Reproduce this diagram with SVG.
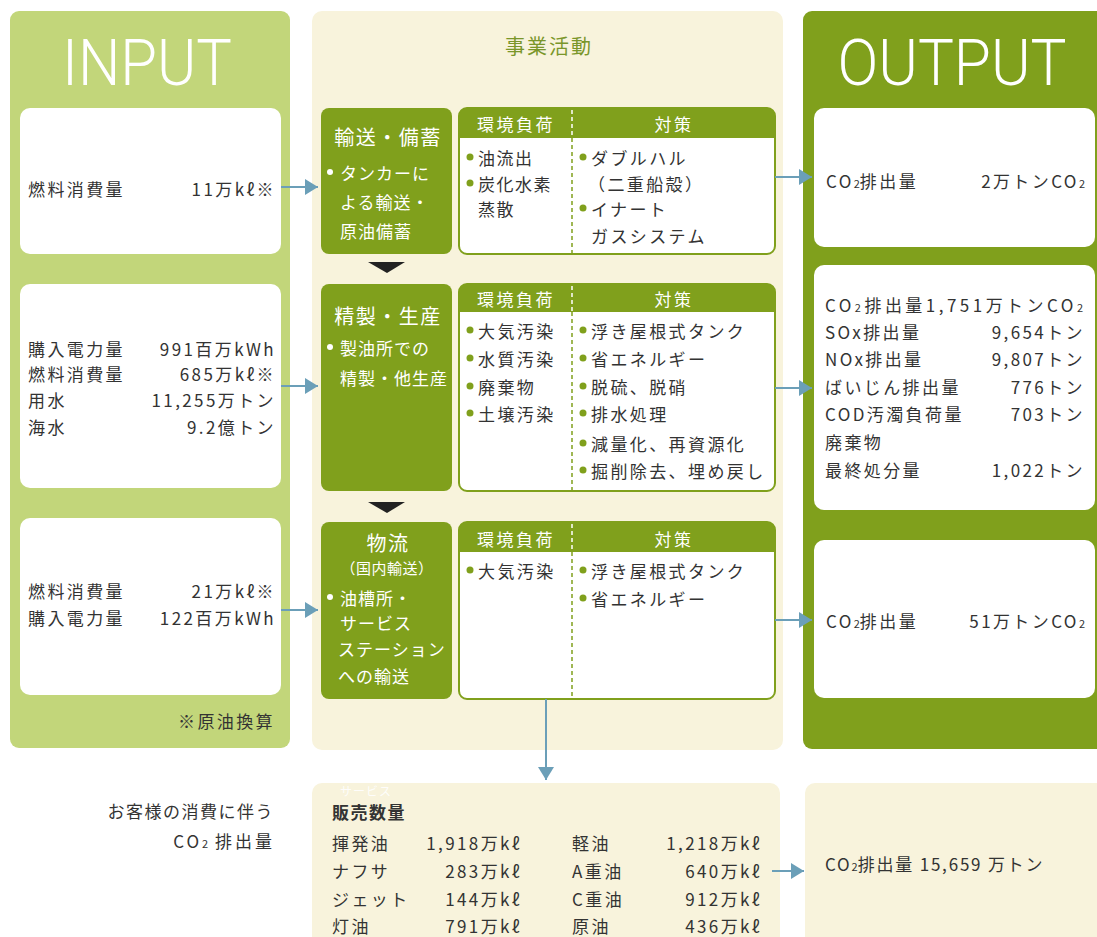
<svg xmlns="http://www.w3.org/2000/svg" width="1097" height="937" viewBox="0 0 1097 937">
<style>
.t{font-family:'Noto Sans CJK JP','Noto Sans CJK SC',sans-serif;font-size:17px;fill:#333;letter-spacing:2.4px;dominant-baseline:central}
.e{text-anchor:end}
.m{text-anchor:middle}
.w{fill:#fff}
.gt{font-family:'Noto Sans CJK JP','Noto Sans CJK SC',sans-serif;font-size:17px;fill:#fff;letter-spacing:1px;dominant-baseline:central}
.gh{font-family:'Noto Sans CJK JP','Noto Sans CJK SC',sans-serif;font-size:20px;fill:#fff;letter-spacing:1.5px;dominant-baseline:central;text-anchor:middle}
.hd{font-family:'Noto Sans CJK JP','Noto Sans CJK SC',sans-serif;font-size:17px;fill:#fff;letter-spacing:2.5px;dominant-baseline:central;text-anchor:middle}
.big{font-family:Roboto,'Noto Sans',sans-serif;font-weight:300;font-size:64px;fill:#fff}
.sub{font-size:11px;letter-spacing:0}
.green{fill:#80a01c}
.tbl{fill:#fff;stroke:#80a01c;stroke-width:2}
.wbox{fill:#fff}
.cream{fill:#f8f3dc}
.dot{fill:#80a01c}
.wdot{fill:#fff}
.arr{stroke:#6b9fb8;stroke-width:2;fill:none;marker-end:url(#ah)}
.tri{fill:#222}
</style>
<defs>
<marker id="ah" markerUnits="userSpaceOnUse" markerWidth="14" markerHeight="16" refX="13" refY="8" orient="auto">
<path d="M0,0 L13,8 L0,16 z" fill="#6b9fb8"/>
</marker>
</defs>

<!-- panels -->
<g id="input-panel">
<rect x="10" y="11" width="280" height="737" rx="9" fill="#c2d67a"/>
<text class="big" x="147" y="85" text-anchor="middle" textLength="170" lengthAdjust="spacingAndGlyphs">INPUT</text>
<text class="t e" x="275" y="720">※原油換算</text>
</g>
<g id="activity-panel">
<rect x="312" y="11" width="471" height="739" rx="10" class="cream"/>
<text class="t m" x="549" y="45" style="fill:#7a962a;font-size:20px;letter-spacing:2px">事業活動</text>
</g>
<g id="output-panel">
<rect x="803" y="11" width="310" height="738" rx="9" class="green"/>
<text class="big" x="952" y="85" text-anchor="middle" textLength="229" lengthAdjust="spacingAndGlyphs">OUTPUT</text>
</g>

<!-- input boxes -->
<g id="in1">
<rect x="20" y="108" width="261" height="146" rx="10" class="wbox"/>
<text class="t" x="28" y="188">燃料消費量</text>
<text class="t e" x="276" y="188">11万kℓ※</text>
</g>
<g id="in2">
<rect x="20" y="284" width="261" height="204" rx="10" class="wbox"/>
<text class="t" x="28" y="348">購入電力量</text>
<text class="t e" x="276" y="348">991百万kWh</text>
<text class="t" x="28" y="373">燃料消費量</text>
<text class="t e" x="276" y="373">685万kℓ※</text>
<text class="t" x="28" y="399">用水</text>
<text class="t e" x="276" y="399">11,255万トン</text>
<text class="t" x="28" y="426">海水</text>
<text class="t e" x="276" y="426">9.2億トン</text>
</g>
<g id="in3">
<rect x="20" y="518" width="261" height="177" rx="10" class="wbox"/>
<text class="t" x="28" y="590">燃料消費量</text>
<text class="t e" x="276" y="590">21万kℓ※</text>
<text class="t" x="28" y="617">購入電力量</text>
<text class="t e" x="276" y="617">122百万kWh</text>
</g>

<!-- activity 1 -->
<g id="act1">
<rect x="321" y="108" width="131" height="146" rx="8" class="green"/>
<text class="gh" x="388" y="136">輸送・備蓄</text>
<circle class="wdot" cx="330" cy="172" r="3"/>
<text class="gt" x="340" y="172">タンカーに</text>
<text class="gt" x="340" y="201">よる輸送・</text>
<text class="gt" x="340" y="230">原油備蓄</text>
</g>
<g id="tbl1">
<rect x="459" y="108" width="316" height="146" rx="8" class="tbl"/>
<path d="M467,108 H767 A8,8 0 0 1 775,116 V138 H459 V116 A8,8 0 0 1 467,108 z" class="green"/>
<line x1="572" y1="110" x2="572" y2="138" stroke="#fff" stroke-width="1.5" stroke-dasharray="4,3"/>
<line x1="572" y1="138" x2="572" y2="253" stroke="#80a01c" stroke-width="1.5" stroke-dasharray="4,3"/>
<text class="hd" x="516" y="123">環境負荷</text>
<text class="hd" x="674" y="123">対策</text>
<circle class="dot" cx="470" cy="157" r="3.5"/>
<text class="t" x="478" y="157" style="letter-spacing:1.5px">油流出</text>
<circle class="dot" cx="470" cy="183" r="3.5"/>
<text class="t" x="478" y="183" style="letter-spacing:1.5px">炭化水素</text>
<text class="t" x="478" y="208" style="letter-spacing:1.5px">蒸散</text>
<circle class="dot" cx="583" cy="157" r="3.5"/>
<text class="t" x="591" y="157">ダブルハル</text>
<text class="t" x="588" y="183">（二重船殻）</text>
<circle class="dot" cx="583" cy="208" r="3.5"/>
<text class="t" x="591" y="208">イナート</text>
<text class="t" x="591" y="235">ガスシステム</text>
</g>

<!-- activity 2 -->
<g id="act2">
<rect x="321" y="284" width="131" height="207" rx="8" class="green"/>
<text class="gh" x="388" y="315">精製・生産</text>
<circle class="wdot" cx="330" cy="347" r="3"/>
<text class="gt" x="340" y="347">製油所での</text>
<text class="gt" x="340" y="377">精製・他生産</text>
</g>
<g id="tbl2">
<rect x="459" y="284" width="316" height="207" rx="8" class="tbl"/>
<path d="M467,284 H767 A8,8 0 0 1 775,292 V312 H459 V292 A8,8 0 0 1 467,284 z" class="green"/>
<line x1="572" y1="286" x2="572" y2="312" stroke="#fff" stroke-width="1.5" stroke-dasharray="4,3"/>
<line x1="572" y1="312" x2="572" y2="490" stroke="#80a01c" stroke-width="1.5" stroke-dasharray="4,3"/>
<text class="hd" x="516" y="298">環境負荷</text>
<text class="hd" x="674" y="298">対策</text>
<circle class="dot" cx="470" cy="330" r="3.5"/>
<text class="t" x="478" y="330">大気汚染</text>
<circle class="dot" cx="470" cy="358" r="3.5"/>
<text class="t" x="478" y="358">水質汚染</text>
<circle class="dot" cx="470" cy="386" r="3.5"/>
<text class="t" x="478" y="386">廃棄物</text>
<circle class="dot" cx="470" cy="413" r="3.5"/>
<text class="t" x="478" y="413">土壌汚染</text>
<circle class="dot" cx="583" cy="330" r="3.5"/>
<text class="t" x="591" y="330">浮き屋根式タンク</text>
<circle class="dot" cx="583" cy="358" r="3.5"/>
<text class="t" x="591" y="358">省エネルギー</text>
<circle class="dot" cx="583" cy="386" r="3.5"/>
<text class="t" x="591" y="386">脱硫、脱硝</text>
<circle class="dot" cx="583" cy="413" r="3.5"/>
<text class="t" x="591" y="413">排水処理</text>
<circle class="dot" cx="583" cy="443" r="3.5"/>
<text class="t" x="591" y="443">減量化、再資源化</text>
<circle class="dot" cx="583" cy="470" r="3.5"/>
<text class="t" x="591" y="470">掘削除去、埋め戻し</text>
</g>

<!-- activity 3 -->
<g id="act3">
<rect x="321" y="522" width="131" height="177" rx="8" class="green"/>
<text class="gh" x="388" y="542">物流</text>
<text class="gt" x="387" y="567" style="font-size:15px;text-anchor:middle;letter-spacing:0.5px">（国内輸送）</text>
<circle class="wdot" cx="330" cy="597" r="3"/>
<text class="gt" x="340" y="597">油槽所・</text>
<text class="gt" x="340" y="622">サービス</text>
<text class="gt" x="338" y="648">ステーション</text>
<text class="gt" x="338" y="675">への輸送</text>
</g>
<g id="tbl3">
<rect x="459" y="522" width="316" height="177" rx="8" class="tbl"/>
<path d="M467,522 H767 A8,8 0 0 1 775,530 V552 H459 V530 A8,8 0 0 1 467,522 z" class="green"/>
<line x1="572" y1="524" x2="572" y2="552" stroke="#fff" stroke-width="1.5" stroke-dasharray="4,3"/>
<line x1="572" y1="552" x2="572" y2="698" stroke="#80a01c" stroke-width="1.5" stroke-dasharray="4,3"/>
<text class="hd" x="516" y="538">環境負荷</text>
<text class="hd" x="674" y="538">対策</text>
<circle class="dot" cx="470" cy="570" r="3.5"/>
<text class="t" x="478" y="570">大気汚染</text>
<circle class="dot" cx="583" cy="570" r="3.5"/>
<text class="t" x="591" y="570">浮き屋根式タンク</text>
<circle class="dot" cx="583" cy="598" r="3.5"/>
<text class="t" x="591" y="598">省エネルギー</text>
</g>

<!-- output boxes -->
<g id="out1">
<rect x="814" y="108" width="281" height="139" rx="10" class="wbox"/>
<text class="t" x="826" y="180">CO<tspan class="sub" dy="3">2</tspan><tspan dy="-3">排出量</tspan></text>
<text class="t e" x="1085" y="180">2万トンCO<tspan class="sub" dy="3">2</tspan></text>
</g>
<g id="out2">
<rect x="814" y="265" width="281" height="245" rx="10" class="wbox"/>
<text class="t" x="825" y="304" style="letter-spacing:0" textLength="258" lengthAdjust="spacing">CO<tspan class="sub" dy="3">2</tspan><tspan dy="-3">排出量1,751万トンCO</tspan><tspan class="sub" dy="3">2</tspan></text>
<text class="t" x="825" y="331">SOx排出量</text>
<text class="t e" x="1085" y="331">9,654トン</text>
<text class="t" x="825" y="358">NOx排出量</text>
<text class="t e" x="1085" y="358">9,807トン</text>
<text class="t" x="825" y="386">ばいじん排出量</text>
<text class="t e" x="1085" y="386">776トン</text>
<text class="t" x="825" y="413">COD汚濁負荷量</text>
<text class="t e" x="1085" y="413">703トン</text>
<text class="t" x="825" y="441">廃棄物</text>
<text class="t" x="825" y="469">最終処分量</text>
<text class="t e" x="1085" y="469">1,022トン</text>
</g>
<g id="out3">
<rect x="814" y="540" width="281" height="158" rx="10" class="wbox"/>
<text class="t" x="826" y="620">CO<tspan class="sub" dy="3">2</tspan><tspan dy="-3">排出量</tspan></text>
<text class="t e" x="1085" y="620">51万トンCO<tspan class="sub" dy="3">2</tspan></text>
</g>

<!-- bottom -->
<g id="customer-label">
<text class="t e" x="274" y="810" style="letter-spacing:1.5px">お客様の消費に伴う</text>
<text class="t e" x="275" y="840" style="letter-spacing:3px">CO<tspan class="sub" dy="3">2</tspan><tspan dy="-3"> 排出量</tspan></text>
</g>
<g id="sales">
<rect x="312" y="783" width="468" height="180" rx="10" class="cream"/>
<text class="t w" x="340" y="790" style="font-size:12px;letter-spacing:1px;opacity:0.9">サービス</text>
<text class="t" x="332" y="811" style="font-weight:bold;letter-spacing:1.5px">販売数量</text>
<text class="t" x="332" y="842">揮発油</text>
<text class="t e" x="522" y="842">1,918万kℓ</text>
<text class="t" x="332" y="870">ナフサ</text>
<text class="t e" x="522" y="870">283万kℓ</text>
<text class="t" x="332" y="898">ジェット</text>
<text class="t e" x="522" y="898">144万kℓ</text>
<text class="t" x="332" y="925">灯油</text>
<text class="t e" x="522" y="925">791万kℓ</text>
<text class="t" x="572" y="842">軽油</text>
<text class="t e" x="762" y="842">1,218万kℓ</text>
<text class="t" x="572" y="870">A重油</text>
<text class="t e" x="762" y="870">640万kℓ</text>
<text class="t" x="572" y="898">C重油</text>
<text class="t e" x="762" y="898">912万kℓ</text>
<text class="t" x="572" y="925">原油</text>
<text class="t e" x="762" y="925">436万kℓ</text>
</g>
<g id="customer-co2">
<rect x="805" y="783" width="310" height="180" rx="10" class="cream"/>
<text class="t" x="825" y="863" style="letter-spacing:1.8px">CO<tspan class="sub" dy="3">2</tspan><tspan dy="-3">排出量 15,659 万トン</tspan></text>
</g>

<!-- connectors -->
<g id="connectors">
<line class="arr" x1="281" y1="187" x2="318" y2="187"/>
<line class="arr" x1="281" y1="386" x2="318" y2="386"/>
<line class="arr" x1="281" y1="610" x2="318" y2="610"/>
<line class="arr" x1="775" y1="177" x2="812" y2="177"/>
<line class="arr" x1="775" y1="388" x2="812" y2="388"/>
<line class="arr" x1="775" y1="620" x2="812" y2="620"/>
<line class="arr" x1="546" y1="699" x2="546" y2="780"/>
<line class="arr" x1="772" y1="871" x2="804" y2="871"/>
<polygon class="tri" points="368,262 405,262 387,273"/>
<polygon class="tri" points="368,502 405,502 387,513"/>
</g>
</svg>
